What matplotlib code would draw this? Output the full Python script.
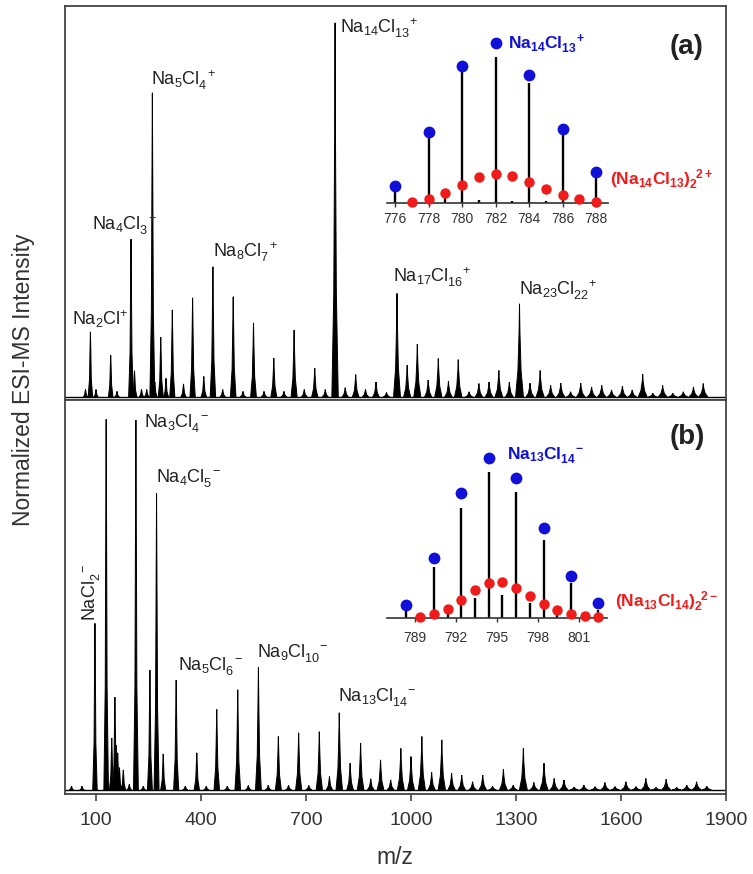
# ESI-MS spectra of NaCl clusters, positive (a) and negative (b) mode
import matplotlib.pyplot as plt

plt.rcParams['font.family'] = ['Liberation Sans', 'DejaVu Sans']
plt.rcParams['mathtext.fontset'] = 'custom'
plt.rcParams['mathtext.rm'] = 'Liberation Sans'
plt.rcParams['mathtext.it'] = 'Liberation Sans:italic'
plt.rcParams['mathtext.bf'] = 'Liberation Sans:bold'

# ---- panel (a): positive mode peaks (m/z, normalized height)
mz_pos = [70, 84, 100, 142, 160, 200, 210, 230, 245, 261, 268, 285, 300, 318, 350,
          376, 408, 434, 462, 492, 520, 550, 580, 608, 637, 666, 695, 725, 755, 783,
          812, 842, 870, 900, 930, 960, 989, 1018, 1049, 1078, 1107, 1135, 1166,
          1194, 1223, 1251, 1281, 1310, 1340, 1369, 1399, 1428, 1456, 1485, 1516,
          1545, 1573, 1604, 1632, 1662, 1691, 1719, 1748, 1778, 1807, 1835]
int_pos = [0.02, 0.174, 0.02, 0.112, 0.015, 0.422, 0.07, 0.02, 0.02, 0.813, 0.04,
           0.16, 0.05, 0.233, 0.035, 0.265, 0.055, 0.348, 0.02, 0.268, 0.015, 0.198,
           0.015, 0.104, 0.015, 0.179, 0.02, 0.077, 0.02, 1.0, 0.025, 0.06, 0.02,
           0.04, 0.012, 0.277, 0.085, 0.141, 0.045, 0.103, 0.042, 0.10, 0.014,
           0.036, 0.04, 0.071, 0.04, 0.249, 0.037, 0.071, 0.031, 0.037, 0.014,
           0.037, 0.027, 0.031, 0.019, 0.029, 0.019, 0.061, 0.01, 0.031, 0.01,
           0.014, 0.027, 0.036]

# ---- panel (b): negative mode peaks
mz_neg = [30, 60, 97, 129, 145, 154, 158, 162, 167, 178, 195, 214, 235, 254, 273,
          292, 329, 355, 388, 415, 445, 475, 505, 535, 564, 592, 621, 650, 679, 708,
          738, 767, 795, 826, 856, 885, 913, 942, 971, 1000, 1031, 1059, 1088, 1116,
          1145, 1176, 1205, 1233, 1264, 1292, 1321, 1351, 1380, 1409, 1437, 1466,
          1494, 1526, 1554, 1583, 1614, 1643, 1671, 1700, 1729, 1759, 1788, 1816, 1845]
int_neg = [0.01, 0.01, 0.449, 0.999, 0.14, 0.25, 0.12, 0.10, 0.06, 0.054, 0.015,
           0.997, 0.01, 0.323, 0.80, 0.097, 0.296, 0.01, 0.10, 0.01, 0.217, 0.01,
           0.27, 0.012, 0.33, 0.012, 0.144, 0.012, 0.154, 0.012, 0.157, 0.036, 0.208,
           0.072, 0.126, 0.03, 0.081, 0.027, 0.112, 0.09, 0.144, 0.047, 0.135, 0.045,
           0.04, 0.022, 0.04, 0.01, 0.056, 0.013, 0.112, 0.02, 0.072, 0.031, 0.027,
           0.008, 0.013, 0.009, 0.02, 0.009, 0.022, 0.009, 0.031, 0.007, 0.029,
           0.007, 0.013, 0.022, 0.01]

# ---- inset (a): Na14Cl13+ isotope pattern
ia_exp_mz = [776, 778, 780, 782, 784, 786, 788, 779, 781, 783, 785]
ia_exp_int = [0.069, 0.423, 0.829, 0.913, 0.746, 0.423, 0.163, 0.03, 0.015, 0.012, 0.008]
ia_blue_mz = [776, 778, 780, 782, 784, 786, 788]
ia_blue_int = [0.106, 0.444, 0.854, 1.0, 0.798, 0.46, 0.194]
ia_red_mz = [777, 778, 779, 780, 781, 782, 783, 784, 785, 786, 787, 788]
ia_red_int = [0.002, 0.021, 0.0625, 0.110, 0.163, 0.179, 0.169, 0.127, 0.083,
              0.048, 0.021, 0.006]
ia_ticks = [776, 778, 780, 782, 784, 786, 788]

# ---- inset (b): Na13Cl14- isotope pattern
ib_exp_mz = [788.4, 790.4, 792.4, 794.4, 796.4, 798.4, 800.4, 802.4,
             791.4, 793.4, 795.4, 797.4, 799.4]
ib_exp_int = [0.05, 0.32, 0.687, 0.917, 0.791, 0.489, 0.217, 0.05,
              0.04, 0.123, 0.144, 0.092, 0.03]
ib_blue_mz = [788.4, 790.4, 792.4, 794.4, 796.4, 798.4, 800.4, 802.4]
ib_blue_int = [0.081, 0.374, 0.781, 1.0, 0.875, 0.562, 0.265, 0.096]
ib_red_mz = [789.4, 790.4, 791.4, 792.4, 793.4, 794.4, 795.4, 796.4, 797.4,
             798.4, 799.4, 800.4, 801.4, 802.4]
ib_red_int = [0.008, 0.023, 0.054, 0.113, 0.175, 0.217, 0.223, 0.186, 0.14,
              0.086, 0.05, 0.025, 0.0125, 0.004]
ib_ticks = [789, 792, 795, 798, 801]

x_ticks = [100, 400, 700, 1000, 1300, 1600, 1900]

BLUE = '#1010d8'
RED = '#f01c1c'
W, H = 753, 874


def fx(px):
    return px / W


def fy(py):
    return 1 - py / H


def formula(na, cl, sign, bold=False):
    # Na_x Cl_y with the charge raised after the subscript
    sp = 0.6 * len(cl)
    if bold:
        return r'$\mathbf{Na_{%s}Cl_{%s}^{\hspace{%.2f}%s}}$' % (na, cl, sp, sign)
    return r'Na$_{%s}$Cl$_{%s}^{\hspace{%.2f}%s}$' % (na, cl, sp, sign)


def draw_spectrum(ax, mz, inten):
    for m, h in zip(mz, inten):
        w = 6 + 0.004 * m
        xs = [m - w, m - 0.4 * w, m - 1.2, m, m + 1.2, m + 0.4 * w, m + w]
        ys = [0, 0.28 * h, 0.7 * h, h, 0.7 * h, 0.28 * h, 0]
        ax.fill(xs, ys, color='black', lw=0.7)
    ax.axhline(0, color='black', lw=1.0)


fig = plt.figure(figsize=(7.53, 8.74), dpi=100)
ax_a = fig.add_axes([fx(65), fy(400), fx(726) - fx(65), fy(6) - fy(400)])
ax_b = fig.add_axes([fx(65), fy(794), fx(726) - fx(65), fy(400) - fy(794)])

draw_spectrum(ax_a, mz_pos, int_pos)
draw_spectrum(ax_b, mz_neg, int_neg)

for ax in (ax_a, ax_b):
    ax.set_xlim(11.4, 1900)
    ax.set_yticks([])
    for s in ax.spines.values():
        s.set_color('#444444')
        s.set_linewidth(1.3)
ax_a.set_ylim(-0.008, 1.045)
ax_b.set_ylim(-0.011, 1.051)
ax_a.set_xticks([])
ax_b.set_xticks(x_ticks)
ax_b.tick_params(axis='x', direction='out', length=5, width=1.2, labelsize=14,
                 pad=8, color='#444444', labelcolor='#333333')

fig.text(fx(24), fy(380), 'Normalized ESI-MS Intensity', rotation=90,
         ha='center', va='center', fontsize=16.5, color='#333333')
fig.text(fx(395), fy(857), 'm/z', ha='center', va='center', fontsize=16.5,
         color='#333333')

# peak labels
lab_kw = dict(fontsize=13, ha='left', va='baseline', color='#222222')
fig.text(fx(71.7), fy(325), r'Na$_{2}$Cl$^{+}$', **lab_kw)
fig.text(fx(91.7), fy(230), formula('4', '3', '+'), **lab_kw)
fig.text(fx(150.7), fy(85), formula('5', '4', '+'), **lab_kw)
fig.text(fx(212.7), fy(256.7), formula('8', '7', '+'), **lab_kw)
fig.text(fx(340), fy(33), formula('14', '13', '+'), **lab_kw)
fig.text(fx(393.3), fy(281.7), formula('17', '16', '+'), **lab_kw)
fig.text(fx(519.3), fy(295), formula('23', '22', '+'), **lab_kw)

fig.text(fx(91), fy(621), r'NaCl$_{2}^{\hspace{0.6}-}$', rotation=90, fontsize=13,
         ha='center', va='bottom', color='#222222')
fig.text(fx(144), fy(427), formula('3', '4', '-'), **lab_kw)
fig.text(fx(156), fy(482), formula('4', '5', '-'), **lab_kw)
fig.text(fx(178.3), fy(670), formula('5', '6', '-'), **lab_kw)
fig.text(fx(257.3), fy(657), formula('9', '10', '-'), **lab_kw)
fig.text(fx(338.3), fy(701), formula('13', '14', '-'), **lab_kw)

fig.text(fx(670), fy(46.7), '(a)', fontsize=20, fontweight='bold',
         ha='left', va='center', color='#222222')
fig.text(fx(670), fy(437), '(b)', fontsize=20, fontweight='bold',
         ha='left', va='center', color='#222222')


def draw_inset(rect, xlim, ticks, e_mz, e_int, b_mz, b_int, r_mz, r_int, pad):
    ins = fig.add_axes(rect)
    ins.set_facecolor('none')
    ins.vlines(e_mz, 0, e_int, color='black', lw=1.7, zorder=2)
    ins.plot(r_mz, r_int, 'o', color=RED, ms=7.5, mec='none', clip_on=False, zorder=3)
    ins.plot(b_mz, b_int, 'o', color=BLUE, ms=8.5, mec='none', clip_on=False, zorder=4)
    ins.set_xlim(*xlim)
    ins.set_ylim(0, 1.1)
    ins.set_yticks([])
    ins.set_xticks(ticks)
    for side in ('top', 'left', 'right'):
        ins.spines[side].set_visible(False)
    ins.spines['bottom'].set_linewidth(1.2)
    ins.spines['bottom'].set_color('#333333')
    ins.tick_params(axis='x', direction='out', length=3, width=1, labelsize=10,
                    pad=pad, color='#333333', labelcolor='#333333')
    return ins


draw_inset([fx(386.7), fy(202.7), fx(608) - fx(386.7), fy(26.7) - fy(202.7)],
           (775.5, 788.7), ia_ticks, ia_exp_mz, ia_exp_int, ia_blue_mz, ia_blue_int,
           ia_red_mz, ia_red_int, 4)
draw_inset([fx(387.3), fy(618), fx(606.7) - fx(387.3), fy(442.3) - fy(618)],
           (787.0, 803.0), ib_ticks, ib_exp_mz, ib_exp_int, ib_blue_mz, ib_blue_int,
           ib_red_mz, ib_red_int, 6)

fig.text(fx(508), fy(48.3), formula('14', '13', '+', bold=True), color=BLUE,
         fontsize=12.5, ha='left', va='baseline')
fig.text(fx(610), fy(185), r'$\mathbf{(Na_{14}Cl_{13})_{2}^{\hspace{0.6}2+}}$',
         color=RED, fontsize=12.5, ha='left', va='baseline')
fig.text(fx(506.7), fy(460), formula('13', '14', '-', bold=True), color=BLUE,
         fontsize=12.5, ha='left', va='baseline')
fig.text(fx(615), fy(607), r'$\mathbf{(Na_{13}Cl_{14})_{2}^{\hspace{0.6}2-}}$',
         color=RED, fontsize=12.5, ha='left', va='baseline')

fig.savefig('out.png', dpi=100)
